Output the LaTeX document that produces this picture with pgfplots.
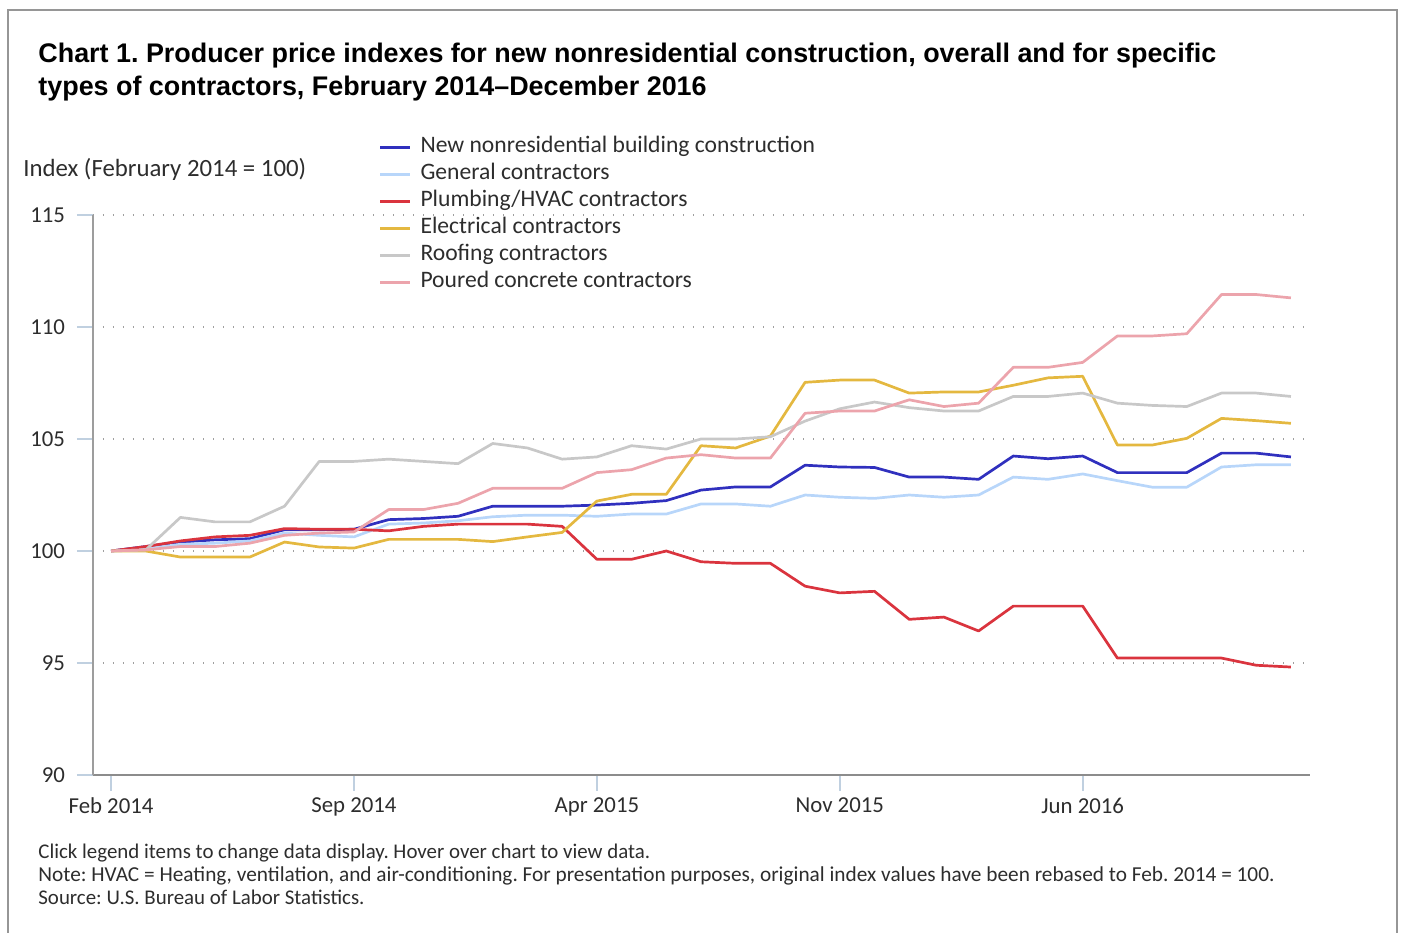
\documentclass[border=0pt]{standalone}
\usepackage{pgfplots}
\pgfplotsset{compat=1.18}
\usepackage{pgfplotstable}
\usepackage{fontspec}
\setmainfont{Carlito}
\newfontfamily\titlefont{Liberation Sans}

\definecolor{cBlue}{RGB}{48,48,190}
\definecolor{cGen}{RGB}{184,214,250}
\definecolor{cRed}{RGB}{218,52,62}
\definecolor{cElec}{RGB}{228,184,64}
\definecolor{cRoof}{RGB}{200,200,200}
\definecolor{cConc}{RGB}{236,164,172}
\definecolor{cAxis}{RGB}{140,140,140}
\definecolor{cTick}{RGB}{192,208,224}
\definecolor{cFrame}{RGB}{150,150,150}
\definecolor{cText}{RGB}{45,45,45}

\pgfplotstableread{
m blue gen plumb elec roof conc
0 100 100 100 100 100 100
1 100.2 100.1 100.2 100.0 100.05 100.05
2 100.4 100.3 100.45 99.73 101.5 100.2
3 100.5 100.35 100.63 99.73 101.3 100.2
4 100.55 100.45 100.7 99.73 101.3 100.35
5 100.95 100.8 101.0 100.4 102.0 100.7
6 100.95 100.7 100.97 100.18 104.0 100.8
7 100.97 100.63 100.97 100.13 104.0 100.85
8 101.4 101.2 100.9 100.52 104.1 101.85
9 101.45 101.25 101.1 100.52 104.0 101.85
10 101.55 101.35 101.2 100.52 103.9 102.13
11 102.0 101.53 101.2 100.42 104.8 102.8
12 102.0 101.6 101.2 100.63 104.6 102.8
13 102.0 101.6 101.1 100.83 104.1 102.8
14 102.05 101.55 99.63 102.23 104.2 103.5
15 102.13 101.65 99.63 102.53 104.7 103.63
16 102.25 101.65 100.0 102.53 104.55 104.15
17 102.72 102.1 99.52 104.7 105.0 104.3
18 102.86 102.1 99.45 104.6 105.0 104.15
19 102.86 102.0 99.45 105.13 105.1 104.15
20 103.83 102.5 98.43 107.53 105.8 106.15
21 103.75 102.4 98.13 107.63 106.35 106.25
22 103.73 102.35 98.2 107.63 106.65 106.25
23 103.3 102.5 96.95 107.05 106.4 106.75
24 103.3 102.4 97.05 107.1 106.25 106.45
25 103.2 102.5 96.43 107.1 106.25 106.6
26 104.24 103.3 97.54 107.4 106.9 108.2
27 104.12 103.2 97.54 107.73 106.9 108.2
28 104.24 103.44 97.54 107.8 107.05 108.42
29 103.5 103.14 95.22 104.73 106.6 109.6
30 103.5 102.85 95.22 104.73 106.5 109.6
31 103.5 102.85 95.22 105.03 106.45 109.7
32 104.37 103.75 95.22 105.92 107.05 111.45
33 104.37 103.85 94.9 105.82 107.05 111.45
34 104.2 103.85 94.82 105.7 106.9 111.3
}\datatable

\begin{document}
\frenchspacing
\begin{tikzpicture}
\useasboundingbox (0,0) rectangle (701.5pt,-466pt);
\begin{scope}[x=0.5pt,y=-0.5pt]
\draw[cFrame, line width=1pt] (8,10) rectangle (1397,980);
\node[anchor=base west, inner sep=0pt, font=\titlefont\bfseries\fontsize{13.45}{16}\selectfont] at (38,62) {Chart 1. Producer price indexes for new nonresidential construction, overall and for specific};
\node[anchor=base west, inner sep=0pt, font=\titlefont\bfseries\fontsize{13.45}{16}\selectfont] at (38,95) {types of contractors, February 2014–December 2016};
\node[anchor=base west, inner sep=0pt, text=cText, font=\fontsize{12.4}{14}\selectfont] at (23,176) {Index (February 2014 = 100)};
\node[anchor=base west, inner sep=0pt, text=cText, font=\fontsize{10.45}{12}\selectfont] at (38,858) {Click legend items to change data display. Hover over chart to view data.};
\node[anchor=base west, inner sep=0pt, text=cText, font=\fontsize{10.65}{12}\selectfont] at (38,881) {Note: HVAC = Heating, ventilation, and air-conditioning. For presentation purposes, original index values have been rebased to Feb. 2014 = 100.};
\node[anchor=base west, inner sep=0pt, text=cText, font=\fontsize{10.45}{12}\selectfont] at (38,904) {Source: U.S. Bureau of Labor Statistics.};
\end{scope}
\begin{axis}[
  at={(46.5pt,-387.5pt)}, anchor=south west,
  scale only axis, width=608.5pt, height=280pt,
  xmin=-0.52, xmax=34.55, ymin=90, ymax=115,
  axis x line*=bottom, axis y line*=left,
  x axis line style={draw=cAxis, line width=1pt},
  y axis line style={draw=cAxis!85, line width=0.8pt},
  xtick={0,7,14,21,28},
  xticklabels={Feb 2014,Sep 2014,Apr 2015,Nov 2015,Jun 2016},
  ytick={90,95,100,105,110,115},
  tick align=outside, major tick length=8pt,
  tick style={draw=cTick, line width=0.8pt},
  ymajorgrids,
  grid style={draw=gray!75, line width=0.7pt, dash pattern=on 0.7pt off 4.3pt},
  ticklabel style={font=\fontsize{11.4}{13}\selectfont, text=cText},
  yticklabel style={xshift=-2.5pt},
  /pgf/number format/assume math mode=true,
  every axis plot/.append style={line width=1.35pt, line join=round, no markers},
  legend cell align=left,
  legend style={at={(0.2295,1.152)}, anchor=north west, draw=none, fill=none,
    font=\fontsize{11.8}{14}\selectfont, text=cText, row sep=0pt, column sep=2.5pt,
    nodes={inner ysep=0pt, text height=9pt, text depth=4.5pt}},
  legend image code/.code={\draw[#1, line width=1.4pt] (0pt,0pt) -- (15pt,0pt);},
]
\addplot[cBlue] table[x=m, y=blue] {\datatable};
\addlegendentry{New nonresidential building construction}
\addplot[cGen] table[x=m, y=gen] {\datatable};
\addlegendentry{General contractors}
\addplot[cRed] table[x=m, y=plumb] {\datatable};
\addlegendentry{Plumbing/HVAC contractors}
\addplot[cElec] table[x=m, y=elec] {\datatable};
\addlegendentry{Electrical contractors}
\addplot[cRoof] table[x=m, y=roof] {\datatable};
\addlegendentry{Roofing contractors}
\addplot[cConc] table[x=m, y=conc] {\datatable};
\addlegendentry{Poured concrete contractors}
\end{axis}
\end{tikzpicture}
\end{document}
